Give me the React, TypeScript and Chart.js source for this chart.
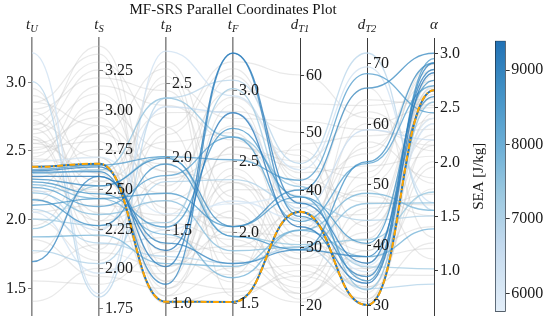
import React, { useEffect, useRef } from 'react';
import { Chart, registerables } from 'chart.js';
Chart.register(...registerables);

const TITLE = 'MF-SRS Parallel Coordinates Plot';
const COLORBAR_LABEL = 'SEA [J/kg]';
const AXIS_KEYS = ['tU', 'tS', 'tB', 'tF', 'dT1', 'dT2', 'alpha'];
const AXIS_BASE = ['t', 't', 't', 't', 'd', 'd', 'α'];
const AXIS_SUB = ['U', 'S', 'B', 'F', 'T1', 'T2', ''];
const AXIS_MIN = [1.301, 1.707, 0.92, 1.418, 18.26, 28.34, 0.585];
const AXIS_MAX = [3.318, 3.451, 2.809, 3.366, 66.43, 74.19, 3.141];
const AXIS_TICKS = [
  [1.5, 2.0, 2.5, 3.0],
  [1.75, 2.0, 2.25, 2.5, 2.75, 3.0, 3.25],
  [1.0, 1.5, 2.0, 2.5],
  [1.5, 2.0, 2.5, 3.0],
  [20, 30, 40, 50, 60],
  [30, 40, 50, 60, 70],
  [1.0, 1.5, 2.0, 2.5, 3.0],
];
const AXIS_DECIMALS = [1, 2, 1, 1, 0, 0, 1];

const SEA_MIN = 5753;
const SEA_MAX = 9394;
const SEA_TICKS = [6000, 7000, 8000, 9000];

// best design (orange dash-dot highlight)
const BEST = [2.38, 2.66, 1.01, 1.51, 36.2, 30.0, 2.66];
const BEST_SEA = 9300;

// designs coloured by SEA: tU, tS, tB, tF, dT1, dT2, alpha
const DESIGNS = [
  [3.21, 1.84, 2.72, 2.96, 43.5, 69.4, 1.62],
  [3.0, 1.82, 2.4, 3.07, 44.6, 71.7, 1.55],
  [2.36, 2.65, 2.0, 2.51, 41.7, 68.3, 2.45],
  [2.35, 2.64, 1.25, 3.26, 37.7, 36.9, 2.85],
  [2.34, 2.61, 1.13, 3.26, 35.4, 34.7, 2.91],
  [2.31, 2.58, 1.36, 2.84, 33.6, 33.6, 2.82],
  [2.29, 2.52, 1.99, 2.04, 40.0, 65.9, 3.0],
  [2.27, 2.47, 1.52, 2.73, 38.8, 40.2, 2.75],
  [2.25, 2.44, 1.47, 1.68, 33.0, 38.0, 1.38],
  [2.23, 2.39, 1.87, 2.67, 34.5, 53.4, 2.7],
  [2.19, 2.34, 1.7, 1.87, 30.1, 46.8, 1.62],
  [2.14, 2.27, 1.95, 1.97, 29.6, 53.7, 2.91],
  [2.07, 2.16, 1.32, 1.78, 30.1, 32.7, 0.87],
  [2.0, 2.27, 1.55, 3.01, 36.2, 36.3, 1.01],
  [1.87, 2.21, 1.27, 1.76, 33.0, 48.5, 1.55],
  [1.77, 2.03, 1.83, 2.37, 37.7, 44.0, 1.5],
  [1.69, 2.58, 1.41, 1.78, 29.6, 38.0, 2.6],
  [2.33, 2.62, 2.4, 2.67, 40.6, 32.5, 2.55],
  [2.21, 2.24, 2.34, 2.84, 36.8, 59.0, 2.2],
  [2.1, 2.44, 1.75, 2.04, 38.8, 34.0, 2.95],
  [1.93, 2.52, 2.0, 1.97, 30.5, 40.8, 1.72],
  [2.05, 1.97, 1.5, 2.22, 35.0, 35.5, 2.35],
  [2.42, 2.7, 1.61, 2.2, 39.0, 36.5, 2.4],
];
const DESIGN_SEA = [
  6300, 6800, 8400, 9100, 8900, 9200, 8800, 8600, 7900, 8300, 7600, 8700,
  6900, 7200, 7800, 7000, 8900, 7500, 6500, 8500, 7400, 6200, 6000,
];

// remaining (filtered-out) designs in light grey
const OTHERS = [
  [2.85, 3.35, 1.2, 2.6, 45, 62, 2.1],
  [2.75, 3.3, 2.2, 3.2, 60, 61, 1.8],
  [2.62, 3.1, 1.9, 2.1, 28, 50, 2.4],
  [2.55, 2.95, 1.4, 2.9, 35, 45, 2.65],
  [2.48, 2.85, 2.6, 1.8, 22, 38, 1.2],
  [2.7, 2.7, 1.1, 2.3, 40, 55, 2.9],
  [2.4, 3.05, 1.65, 2.0, 25, 42, 2.55],
  [2.58, 2.55, 2.1, 2.7, 32, 33, 1.95],
  [2.66, 2.35, 1.3, 1.7, 48, 58, 2.3],
  [2.52, 2.8, 1.05, 2.4, 30, 35, 2.75],
  [2.44, 2.62, 1.75, 3.1, 42, 47, 1.6],
  [2.8, 3.2, 2.45, 2.2, 27, 31, 2.2],
  [2.35, 2.48, 1.55, 1.95, 24, 52, 2.85],
  [2.6, 2.2, 1.85, 2.55, 38, 40, 1.4],
  [2.22, 2.9, 1.15, 1.6, 33, 60, 2.5],
  [2.9, 2.6, 2.3, 2.85, 50, 36, 2.0],
  [2.15, 2.1, 1.25, 2.15, 21, 44, 2.62],
  [2.5, 3.0, 2.05, 1.9, 36, 49, 1.1],
  [2.05, 2.4, 1.6, 2.75, 46, 34, 2.7],
  [1.95, 2.65, 1.35, 2.35, 29, 57, 1.85],
  [2.72, 2.3, 2.55, 1.55, 26, 30.5, 2.45],
  [1.85, 1.95, 1.1, 2.05, 34, 39, 2.15],
  [2.3, 2.75, 1.95, 3.0, 55, 63, 2.58],
  [1.62, 2.15, 1.45, 1.85, 23, 46, 1.7],
  [1.4, 2.0, 1.2, 2.45, 31, 37, 2.35],
  [2.45, 3.15, 2.35, 2.65, 39, 66, 1.3],
  [2.78, 2.45, 1.05, 1.75, 37, 32, 2.8],
  [2.12, 2.85, 1.8, 2.95, 43, 53, 2.05],
  [2.58, 2.12, 2.65, 2.25, 28, 41, 2.68],
  [1.75, 2.55, 1.5, 1.65, 20.5, 35, 0.95],
  [2.38, 2.3, 1.7, 2.5, 47, 43, 2.25],
  [2.65, 3.25, 1.25, 2.0, 32, 64, 2.52],
  [2.0, 2.05, 2.15, 3.15, 41, 48, 1.5],
  [2.55, 2.6, 1.0, 1.58, 25, 31, 2.6],
  [2.85, 2.9, 1.9, 2.35, 35, 56, 2.75],
  [1.55, 1.9, 1.35, 1.9, 30, 33, 1.25],
  [2.2, 2.5, 2.5, 2.8, 52, 59, 2.15],
  [2.68, 3.4, 1.6, 2.1, 22, 39, 2.4],
  [2.42, 2.7, 1.15, 2.6, 44, 51, 2.9],
  [2.95, 2.25, 2.2, 1.72, 27, 36, 1.75],
];

const SERIF = '"Liberation Serif", "Times New Roman", serif';
const BLUES = [
  [247, 251, 255], [222, 235, 247], [198, 219, 239], [158, 202, 225], [107, 174, 214],
  [66, 146, 198], [33, 113, 181], [8, 81, 156], [8, 48, 107],
];

function blues(t: number): number[] {
  const s = Math.max(0, Math.min(1, t)) * (BLUES.length - 1);
  const i = Math.min(BLUES.length - 2, Math.floor(s));
  const f = s - i;
  return BLUES[i].map((c, k) => Math.round(c + (BLUES[i + 1][k] - c) * f));
}
function seaColor(sea: number, alpha = 1): string {
  const t = 0.1 + 0.65 * (sea - SEA_MIN) / (SEA_MAX - SEA_MIN);
  const [r, g, b] = blues(t);
  return `rgba(${r},${g},${b},${alpha})`;
}
function normalize(row: number[]): number[] {
  return row.map((v, i) => (v - AXIS_MIN[i]) / (AXIS_MAX[i] - AXIS_MIN[i]));
}

// Curves leave and enter every axis horizontally
const flatTangents = {
  id: 'flatTangents',
  beforeDatasetDraw(chart: any, args: any) {
    const meta = args.meta;
    const line = meta.dataset;
    const pts = meta.data;
    if (!line || !pts || pts.length < 2) return;
    if (typeof line.updateControlPoints === 'function') line.updateControlPoints(chart.chartArea, 'x');
    for (let i = 0; i < pts.length; i++) {
      const p = pts[i];
      const prev = pts[i - 1];
      const next = pts[i + 1];
      const l = prev ? (p.x - prev.x) * 0.5 : 0;
      const r = next ? (next.x - p.x) * 0.5 : 0;
      p.cp1x = p.x - l;
      p.cp1y = p.y;
      p.cp2x = p.x + r;
      p.cp2y = p.y;
    }
    line._pointsUpdated = true;
    line._path = undefined;
  },
};

// axis names (with subscripts) and tick marks / labels beside each vertical axis
const axisDecor = {
  id: 'axisDecor',
  afterDraw(chart: any) {
    const ctx = chart.ctx;
    const xs = chart.scales.x;
    ctx.save();
    ctx.fillStyle = '#222';
    ctx.textBaseline = 'alphabetic';
    ctx.textAlign = 'left';
    AXIS_KEYS.forEach((_k, i) => {
      const x = xs.getPixelForValue(i);
      const baseFont = `italic 15px ${SERIF}`;
      const subFont = `italic 10.5px ${SERIF}`;
      ctx.font = baseFont;
      const wb = ctx.measureText(AXIS_BASE[i]).width;
      ctx.font = subFont;
      const ws = AXIS_SUB[i] ? ctx.measureText(AXIS_SUB[i]).width : 0;
      const x0 = x - (wb + ws) / 2;
      ctx.font = baseFont;
      ctx.fillText(AXIS_BASE[i], x0, 29);
      if (AXIS_SUB[i]) {
        ctx.font = subFont;
        ctx.fillText(AXIS_SUB[i], x0 + wb, 32);
      }
    });

    ctx.font = `16px ${SERIF}`;
    ctx.textBaseline = 'middle';
    AXIS_KEYS.forEach((_k, i) => {
      const s = chart.scales['y' + i];
      const x = xs.getPixelForValue(i);
      const left = i === 0;
      const dark = i >= 4;
      ctx.strokeStyle = dark ? '#3a3a3a' : '#808080';
      ctx.lineWidth = 1;
      ctx.fillStyle = '#1a1a1a';
      ctx.textAlign = left ? 'right' : 'left';
      s.ticks.forEach((t: any) => {
        const y = Math.round(s.getPixelForValue(t.value)) + 0.5;
        ctx.beginPath();
        ctx.moveTo(x, y);
        ctx.lineTo(left ? x - 4 : x + 4, y);
        ctx.stroke();
        ctx.fillText(t.label, left ? x - 6 : x + 6, y + 0.5);
      });
    });
    ctx.restore();
  },
};

export default function App() {
  const mainRef = useRef<HTMLCanvasElement>(null);
  const barRef = useRef<HTMLCanvasElement>(null);

  useEffect(() => {
    const scales: any = {
      x: { type: 'category', display: false, offset: false },
      n: { type: 'linear', axis: 'y', display: false, min: 0, max: 1 },
    };
    AXIS_KEYS.forEach((_k, i) => {
      const dark = i >= 4;
      scales['y' + i] = {
        type: 'linear',
        axis: 'y',
        position: { x: i },
        min: AXIS_MIN[i],
        max: AXIS_MAX[i],
        afterBuildTicks: (s: any) => {
          s.ticks = AXIS_TICKS[i].map((v) => ({ value: v }));
        },
        ticks: {
          display: false,
          autoSkip: false,
          callback: (v: any) => Number(v).toFixed(AXIS_DECIMALS[i]),
        },
        grid: { display: true, drawOnChartArea: false, drawTicks: false },
        border: { display: true, color: dark ? '#3a3a3a' : '#8a8a8a', width: dark ? 1 : 1.6 },
        z: 1,
      };
    });

    const order = DESIGNS.map((_d, i) => i).sort((a, b) => DESIGN_SEA[b] - DESIGN_SEA[a]);
    const datasets: any[] = [];
    datasets.push({
      data: normalize(BEST),
      borderColor: '#ffa500',
      borderWidth: 2,
      borderDash: [6, 2.5, 1.5, 2.5],
      yAxisID: 'n',
    });
    datasets.push({ data: normalize(BEST), borderColor: seaColor(BEST_SEA, 1), borderWidth: 2, yAxisID: 'n' });
    order.forEach((i) => {
      datasets.push({ data: normalize(DESIGNS[i]), borderColor: seaColor(DESIGN_SEA[i], 0.78), borderWidth: 1.35, yAxisID: 'n' });
    });
    OTHERS.forEach((row) => {
      datasets.push({ data: normalize(row), borderColor: 'rgba(195,195,195,0.36)', borderWidth: 1.2, yAxisID: 'n' });
    });

    const main = new Chart(mainRef.current!, {
      type: 'line',
      data: { labels: AXIS_KEYS, datasets },
      options: {
        animation: false,
        responsive: false,
        events: [],
        layout: { padding: { left: 32, right: 116, top: 0, bottom: 8 } },
        elements: { point: { radius: 0 }, line: { tension: 0.4, fill: false } },
        plugins: {
          legend: { display: false },
          tooltip: { enabled: false },
          title: {
            display: true,
            text: TITLE,
            color: '#111',
            font: { family: SERIF, size: 15, weight: 'normal', lineHeight: 1.2 },
            padding: { top: 1, bottom: 19 },
          },
        },
        scales,
      } as any,
      plugins: [flatTangents, axisDecor],
    });

    const gradient = (c: any) => {
      const ch = c.chart;
      const a = ch.chartArea;
      if (!a) return seaColor((SEA_MIN + SEA_MAX) / 2);
      const g = ch.ctx.createLinearGradient(0, a.bottom, 0, a.top);
      for (let k = 0; k <= 20; k++) {
        const s = k / 20;
        g.addColorStop(s, seaColor(SEA_MIN + s * (SEA_MAX - SEA_MIN)));
      }
      return g;
    };

    const bar = new Chart(barRef.current!, {
      type: 'bar',
      data: {
        labels: ['SEA'],
        datasets: [
          {
            data: [[SEA_MIN, SEA_MAX]] as any,
            backgroundColor: gradient,
            borderColor: '#1d2b3a',
            borderWidth: 1,
            borderSkipped: false,
            barPercentage: 1,
            categoryPercentage: 1,
            yAxisID: 'y',
          },
        ],
      },
      options: {
        animation: false,
        responsive: false,
        events: [],
        layout: { padding: { left: 30, right: 0, top: 40.7, bottom: 11.3 } },
        plugins: { legend: { display: false }, tooltip: { enabled: false } },
        scales: {
          x: { display: false },
          y: {
            position: 'right',
            min: SEA_MIN,
            max: SEA_MAX,
            afterBuildTicks: (s: any) => {
              s.ticks = SEA_TICKS.map((v) => ({ value: v }));
            },
            afterFit: (s: any) => {
              s.width = 44.3;
            },
            ticks: {
              autoSkip: false,
              callback: (v: any) => String(v),
              font: { family: SERIF, size: 16, lineHeight: 0.75 },
              color: '#1a1a1a',
              padding: 1.5,
            },
            grid: { drawOnChartArea: false, tickLength: 4, tickColor: '#333', tickWidth: 1 },
            border: { display: false },
          },
          t: {
            axis: 'y',
            position: 'left',
            display: true,
            afterFit: (s: any) => {
              s.width = 25;
            },
            ticks: { display: false },
            grid: { display: false, drawTicks: false },
            border: { display: false },
            title: {
              display: true,
              text: COLORBAR_LABEL,
              color: '#1a1a1a',
              font: { family: SERIF, size: 15, lineHeight: 1.2 },
              padding: { top: 0, bottom: 7 },
            },
          },
        },
      } as any,
    });

    return () => {
      main.destroy();
      bar.destroy();
    };
  }, []);

  return (
    <div style={{ position: 'absolute', left: 0, top: 0, width: 550, height: 323, background: '#fff' }}>
      <canvas ref={mainRef} width={550} height={323} style={{ position: 'absolute', left: 0, top: 0 }} />
      <canvas ref={barRef} width={110} height={323} style={{ position: 'absolute', left: 440, top: 0 }} />
    </div>
  );
}
